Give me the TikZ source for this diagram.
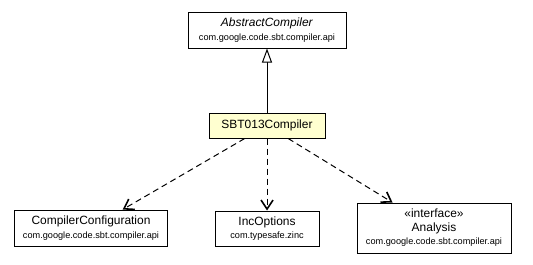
\documentclass[tikz,border=0pt]{standalone}
\usepackage{fontspec}
\setmainfont{Liberation Sans}
\usetikzlibrary{arrows.meta}
\definecolor{selffill}{RGB}{255,255,208}
\newcommand{\pkgline}[1]{{\fontsize{9.2}{11}\selectfont #1}}

\begin{document}
\begin{tikzpicture}[
  x=1bp,y=-1bp,line width=1bp,
  cls/.style={draw,fill=white,align=center,inner sep=0pt,font=\fontsize{12}{13.5}\selectfont},
  self/.style={cls,fill=selffill},
  dep/.style={-{Straight Barb[length=9bp,width=12bp,line width=1.6bp]},dash pattern=on 6bp off 4bp},
  ext/.style={-{Triangle[open,length=14bp,width=10bp,fill=white]}}
]
\useasboundingbox (0,0) rectangle (533,264);
\node[cls,minimum width=158bp,minimum height=36bp] (abstract) at (267,30) {\textit{AbstractCompiler}\\\pkgline{com.google.code.sbt.compiler.api}};
\node[self,minimum width=116bp,minimum height=25bp] (sbt) at (267,125.5) {SBT013Compiler};
\node[cls,minimum width=152bp,minimum height=36bp] (config) at (91,228) {CompilerConfiguration\\\pkgline{com.google.code.sbt.compiler.api}};
\node[cls,minimum width=104bp,minimum height=35bp] (incopts) at (267,228.5) {IncOptions\\\pkgline{com.typesafe.zinc}};
\node[cls,minimum width=154bp,minimum height=50bp] (analysis) at (434,228) {«interface»\\Analysis\\\pkgline{com.google.code.sbt.compiler.api}};
% generalization and dependencies
\draw[ext] (sbt) -- (abstract);
\draw[dep] (sbt) -- (config);
\draw[dep] (sbt) -- (incopts);
\draw[dep] (sbt) -- (analysis);
\end{tikzpicture}
\end{document}
